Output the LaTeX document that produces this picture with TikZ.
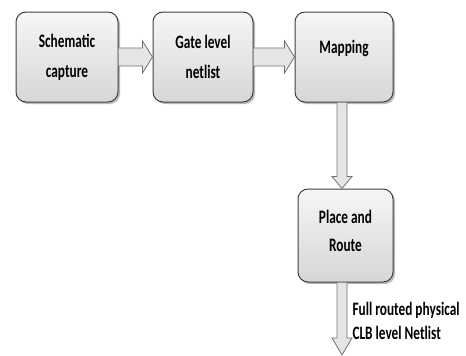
\documentclass[tikz,border=0pt]{standalone}
\usepackage{fontspec}
\setmainfont{Carlito}
\newfontfamily\narrowfont[FakeStretch=0.7]{Carlito}
\usetikzlibrary{calc,shadows}
\begin{document}
\begin{tikzpicture}[x=1pt,y=-1pt,
  stage/.style={draw=black!75, line width=1pt, rounded corners=10pt,
    top color=gray!7, bottom color=gray!32,
    drop shadow={shadow xshift=2pt, shadow yshift=-2pt, fill=black!45, opacity=0.6},
    minimum height=90pt, align=center,
    font=\narrowfont\fontsize{19}{30}\selectfont\bfseries, text=black},
  stagetext/.style={align=center, text=black,
    font=\narrowfont\fontsize{19}{28}\selectfont\bfseries},
  blockarrow/.style={draw=black!55, line width=0.8pt, fill=gray!20, line join=miter},
  note/.style={font=\narrowfont\fontsize{19}{24}\selectfont\bfseries,
    align=left, anchor=west, text=black}]
  \useasboundingbox (0,0) rectangle (466,356);

  % process stages
  \node[stage, minimum width=102pt] (cap) at (67,57) {Schematic\\capture};
  \node[stage, minimum width=100pt] (gate) at (203,57) {Gate level\\netlist};
  \node[stage, minimum width=98pt] (map) at (344,57) {};
  \node[stagetext] (maptxt) at ($(map)+(0,-9)$) {Mapping};
  \node[stage, minimum width=95pt, minimum height=93pt] (par) at (345.5,235.5) {};
  \node[stagetext] (partxt) at ($(par)+(0,-5)$) {Place and\\Route};
  \coordinate (out) at (342,355);

  % horizontal block arrows
  \foreach \s/\t in {cap/gate, gate/map}{
    \draw[blockarrow]
      ($(\s.east)+(0,-9)$) -- ($(\t.west)+(-10,-9)$) -- ($(\t.west)+(-10,-16)$)
      -- (\t.west) -- ($(\t.west)+(-10,16)$) -- ($(\t.west)+(-10,9)$)
      -- ($(\s.east)+(0,9)$);
  }
  % vertical block arrows
  \draw[blockarrow]
    ($(map.south)+(-7,0)$) -- ($(par.north)+(-8.5,-12)$) -- ($(par.north)+(-13.5,-12)$)
    -- ($(par.north)+(-3.5,0)$) -- ($(par.north)+(6.5,-12)$) -- ($(par.north)+(1.5,-12)$)
    -- ($(map.south)+(3,0)$);
  \draw[blockarrow]
    ($(par.south)+(-8.5,0)$) -- ($(out)+(-5,-17)$) -- ($(out)+(-10,-17)$)
    -- (out) -- ($(out)+(10,-17)$) -- ($(out)+(5,-17)$)
    -- ($(par.south)+(1.5,0)$);

  \node[note] (lbl) at (349,321) {Full routed physical\\CLB level Netlist};
\end{tikzpicture}
\end{document}
